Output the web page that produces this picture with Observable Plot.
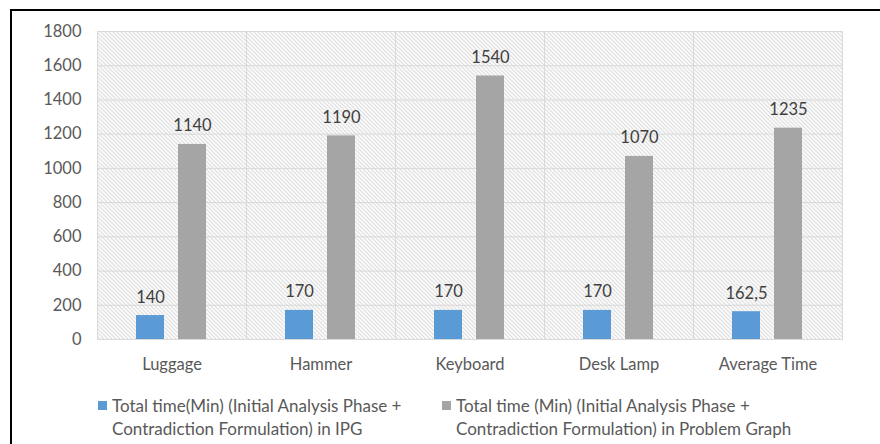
<!DOCTYPE html>
<html>
<head>
<meta charset="utf-8">
<script src="https://cdn.jsdelivr.net/npm/d3@7"></script>
<script src="https://cdn.jsdelivr.net/npm/@observablehq/plot@0.6"></script>
<style>
  html, body { margin: 0; padding: 0; background: #fff; }
  #wrap { position: relative; width: 880px; height: 444px; overflow: hidden; font-family: Lato, "Open Sans", sans-serif; }
  #border { position: absolute; left: 10px; top: 9px; width: 900px; height: 460px; border-left: 2px solid #000; border-top: 2px solid #000; box-sizing: border-box; }
  #chart { position: absolute; left: 0; top: 0; }
  .leg { position: absolute; top: 394px; font-size: 17px; line-height: 23px; color: #595959; white-space: nowrap; }
  .sw { position: absolute; top: 401px; width: 9px; height: 9px; }
</style>
</head>
<body>
<div id="wrap">
  <div id="chart"></div>
  <div id="border"></div>
</div>
<script>
const categories = ["Luggage", "Hammer", "Keyboard", "Desk Lamp", "Average Time"];
const ipgValues = [140, 170, 170, 170, 162.5];
const pgValues = [1140, 1190, 1540, 1070, 1235];
const seriesKeys = ["IPG", "Problem Graph"];
const seriesLabels = [
  ["Total time(Min) (Initial Analysis Phase +", "Contradiction Formulation) in IPG"],
  ["Total time (Min) (Initial Analysis Phase +", "Contradiction Formulation) in Problem Graph"]
];
const seriesColors = ["#5B9BD5", "#A5A5A5"];
const yTicks = [0, 200, 400, 600, 800, 1000, 1200, 1400, 1600, 1800];

const data = [];
categories.forEach((c, i) => {
  data.push({category: c, key: seriesKeys[0], value: ipgValues[i]});
  data.push({category: c, key: seriesKeys[1], value: pgValues[i]});
});
const fmt = v => String(v).replace(".", ",");

const plot = Plot.plot({
  width: 880,
  height: 390,
  marginTop: 31,
  marginBottom: 51,
  marginLeft: 96,
  marginRight: 38,
  style: {fontFamily: "Lato, 'Open Sans', sans-serif", fontSize: "16.5px", color: "#595959", background: "transparent"},
  fx: {domain: categories, padding: 0, label: null},
  x: {domain: seriesKeys, paddingInner: 0.326, paddingOuter: 0.9, axis: null},
  y: {domain: [0, 1800], label: null},
  color: {domain: seriesKeys, range: seriesColors},
  marks: [
    Plot.frame({fill: "url(#hatch)", stroke: "#d9d9d9"}),
    Plot.gridY(yTicks, {stroke: "#d9d9d9", strokeOpacity: 1}),
    Plot.axisY(yTicks, {tickSize: 0, tickPadding: 16, fontSize: 16.5, fill: "#595959", label: null, tickFormat: d => String(d)}),
    Plot.axisFx({anchor: "bottom", tickSize: 0, tickPadding: 19, fontSize: 16.5, fill: "#595959", label: null}),
    Plot.barY(data, {fx: "category", x: "key", y: "value", fill: "key"}),
    Plot.text(data, {fx: "category", x: "key", y: "value", text: d => fmt(d.value), dy: -13, lineAnchor: "bottom", fontSize: 16.5, fill: "#404040"})
  ]
});

const svg = d3.select(plot);
const defs = svg.insert("defs", ":first-child");
const pat = defs.append("pattern")
  .attr("id", "hatch")
  .attr("patternUnits", "userSpaceOnUse")
  .attr("width", 4).attr("height", 4);
pat.append("rect").attr("width", 4).attr("height", 4).attr("fill", "#ffffff");
pat.append("path").attr("d", "M-1,-1 L5,5 M-1,3 L1,5 M3,-1 L5,1")
  .attr("stroke", "#c4c4c4").attr("stroke-width", 1);

document.getElementById("chart").appendChild(plot);

const wrap = document.getElementById("wrap");
const swX = [98, 442];
const txX = [112, 456];
seriesKeys.forEach((k, i) => {
  const sw = document.createElement("div");
  sw.className = "sw";
  sw.style.left = swX[i] + "px";
  sw.style.background = seriesColors[i];
  wrap.appendChild(sw);
  const t = document.createElement("div");
  t.className = "leg";
  t.style.left = txX[i] + "px";
  t.innerHTML = seriesLabels[i].join("<br>");
  wrap.appendChild(t);
});
</script>
</body>
</html>
